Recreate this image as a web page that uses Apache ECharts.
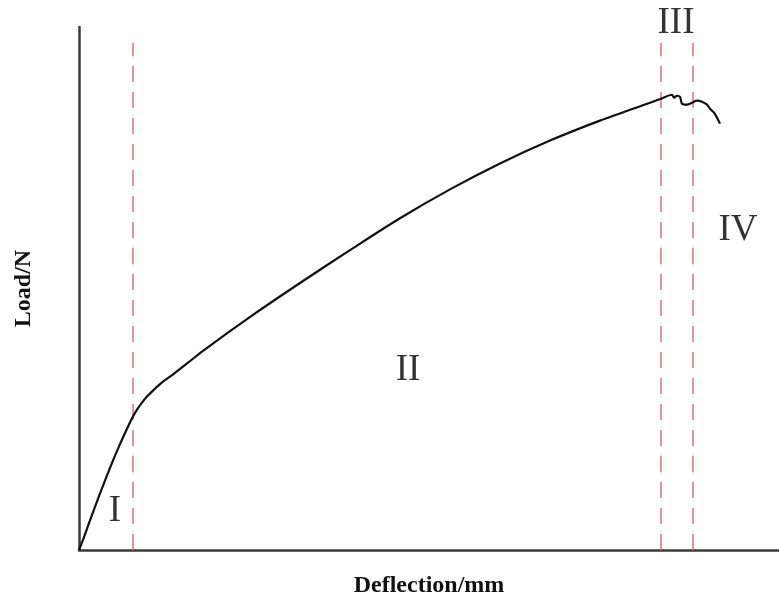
<!DOCTYPE html>
<html>
<head>
<meta charset="utf-8">
<script src="https://cdn.jsdelivr.net/npm/echarts@6/dist/echarts.min.js"></script>
<style>
html,body{margin:0;padding:0;background:#fff;}
#main{width:779px;height:603px;}
</style>
</head>
<body>
<div id="main"></div>
<script>
//荷载-挠度曲线 (无刻度, 单位按图读取)
var deflection = [0, 5, 10, 20, 30, 40, 50, 54, 58, 63, 68, 75, 84, 95, 109, 124, 174, 224, 271, 321, 371, 421, 471, 521, 571, 582,
                  593, 595, 598, 601, 603, 608, 613, 618, 623, 628, 631, 635, 638, 641];
var load = [0, 13, 27, 54, 80, 104, 126, 134, 141, 148, 154, 161, 169, 177, 188, 200, 236, 270, 301, 333, 362, 388, 411, 431, 449, 453,
            457, 454, 456, 455, 448, 447, 449, 451, 450, 447, 443, 439, 434, 428];

//阶段分界线位置
var stageLines = [54, 582, 614];
var stageLineTop = 509;

//阶段标记
var stageNames = ['I', 'II', 'III', 'IV'];
var stageX = [36, 329, 597, 659];
var stageY = [39, 180, 529, 321];

var myChart = echarts.init(document.getElementById('main'));

var series = [];
series.push({
    name: 'Load',
    type: 'line',
    data: deflection.map(function (d, i) { return [d, load[i]]; }),
    showSymbol: false,
    smooth: 0.3,
    lineStyle: { color: '#111', width: 2.2 },
    z: 3
});
for (var i = 0; i < stageLines.length; i++) {
    series.push({
        type: 'line',
        data: [[stageLines[i], 0], [stageLines[i], stageLineTop]],
        showSymbol: false,
        lineStyle: { color: '#dc6f7c', width: 1.5, type: [16, 10] },
        z: 2
    });
}
series.push({
    type: 'scatter',
    symbolSize: 0,
    clip: false,
    data: stageNames.map(function (n, i) { return { value: [stageX[i], stageY[i]], name: n }; }),
    label: {
        show: true,
        position: 'inside',
        formatter: '{b}',
        fontFamily: 'Liberation Serif',
        fontSize: 37,
        color: '#000'
    },
    silent: true
});

var option = {
    backgroundColor: '#fff',
    animation: false,
    grid: { left: 79, right: 0, top: 27, bottom: 51 },
    xAxis: {
        type: 'value',
        min: 0,
        max: 700,
        name: 'Deflection/mm',
        nameLocation: 'middle',
        nameGap: 24,
        nameTextStyle: { fontFamily: 'Liberation Serif', fontWeight: 'bold', fontSize: 24, color: '#111' },
        axisLine: { show: true, lineStyle: { color: '#3a3a3a', width: 2.5 } },
        axisTick: { show: false },
        axisLabel: { show: false },
        splitLine: { show: false }
    },
    yAxis: {
        type: 'value',
        min: 0,
        max: 525,
        name: 'Load/N',
        nameLocation: 'middle',
        nameGap: 43,
        nameTextStyle: { fontFamily: 'Liberation Serif', fontWeight: 'bold', fontSize: 24, color: '#111' },
        axisLine: { show: true, lineStyle: { color: '#3a3a3a', width: 2.5 } },
        axisTick: { show: false },
        axisLabel: { show: false },
        splitLine: { show: false }
    },
    series: series
};
myChart.setOption(option);
</script>
</body>
</html>
